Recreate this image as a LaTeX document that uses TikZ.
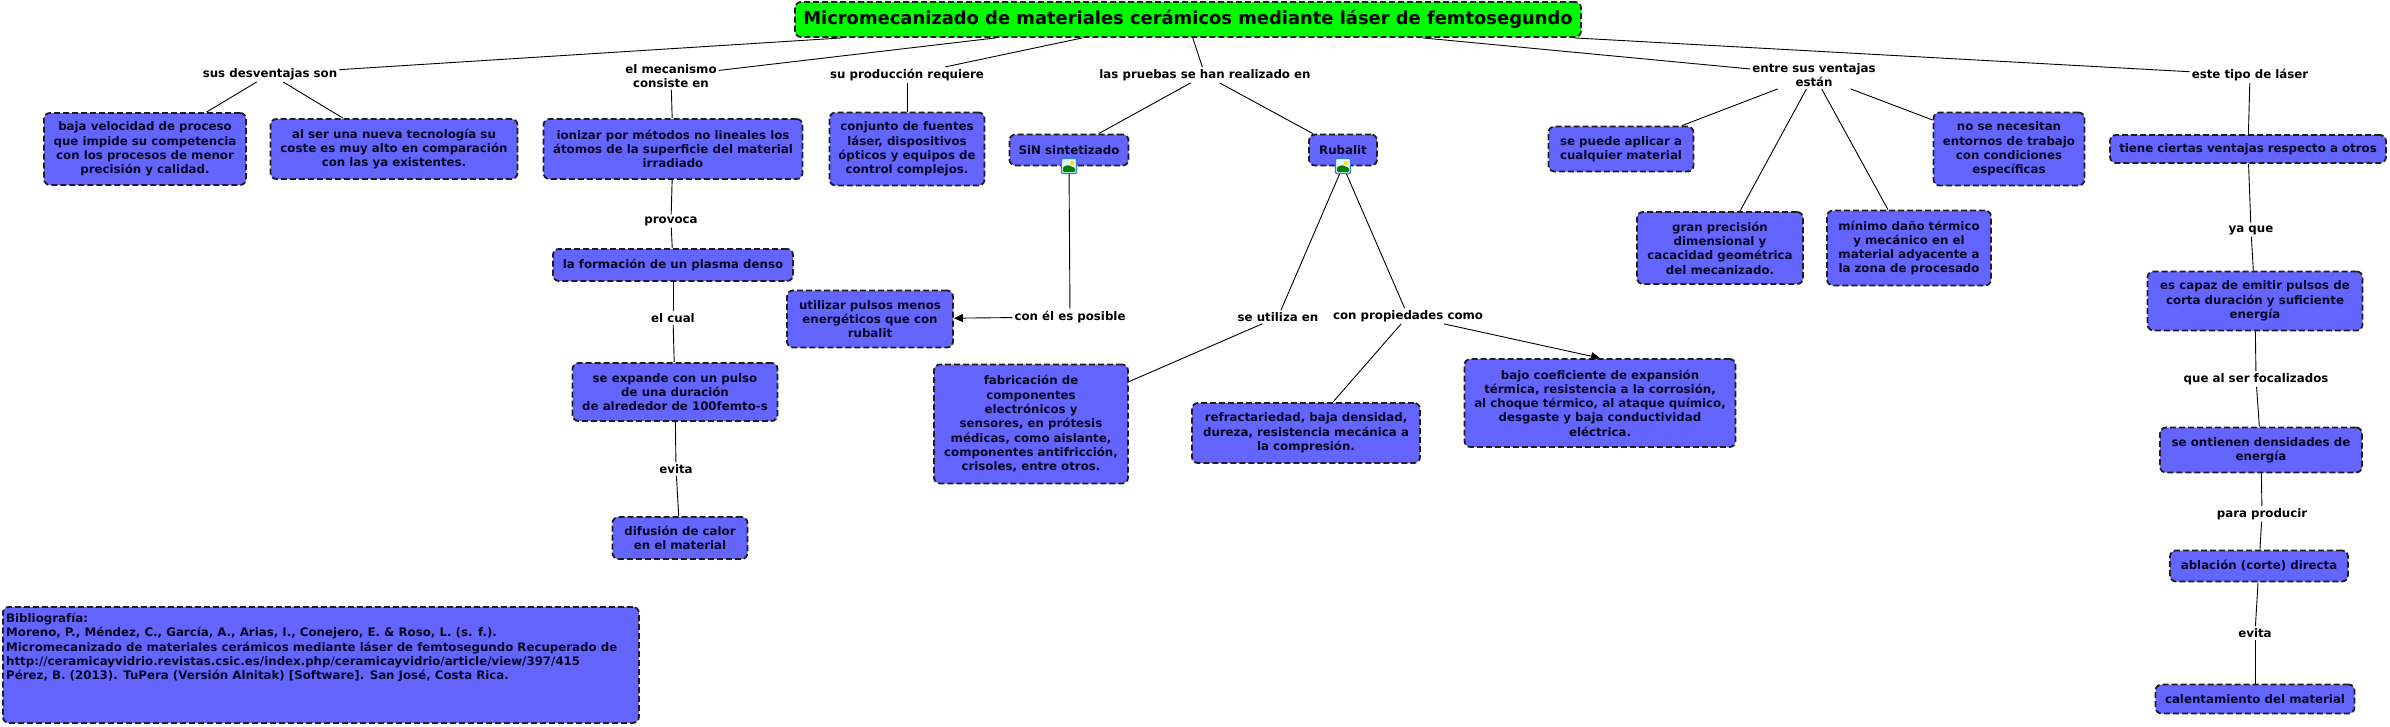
\documentclass[tikz,border=0pt]{standalone}
\usepackage{fontspec}
\setmainfont{DejaVu Sans}
\usetikzlibrary{arrows.meta,calc}
\definecolor{cbox}{RGB}{100,100,255}
\definecolor{ctitle}{RGB}{0,250,0}
\definecolor{cborder}{RGB}{30,30,30}
\definecolor{ctext}{RGB}{8,8,35}
\definecolor{iconblue}{RGB}{60,120,210}
\begin{document}
\begin{tikzpicture}[x=1pt,y=1pt,
  base/.style={font=\fontsize{11.8}{14.3}\selectfont\bfseries, align=center},
  concept/.style={base, draw=cborder, fill=cbox, text=ctext, line width=1.8pt, dash pattern=on 6pt off 3pt, rounded corners=6pt, inner xsep=6pt, inner ysep=4pt},
  link/.style={base, text=black, inner sep=2pt},
  titlebox/.style={concept, fill=ctitle, text=black, font=\fontsize{17.9}{20}\selectfont\bfseries},
  conn/.style={draw=black, line width=0.9pt},
  arr/.style={conn, -{Triangle[length=9pt,width=8pt]}},
  imgicon/.style={draw=iconblue, line width=1.2pt, fill=cyan!12, minimum size=15pt, inner sep=0pt, rounded corners=1pt,
    path picture={
      \fill[green!50!black] ($(path picture bounding box.south west)+(1.5pt,1.5pt)$) -- ($(path picture bounding box.south east)+(-1.5pt,1.5pt)$)
        -- ($(path picture bounding box.east)+(-1.5pt,-2pt)$) -- ($(path picture bounding box.center)+(-1pt,1pt)$)
        -- ($(path picture bounding box.west)+(1.5pt,-1pt)$) -- cycle;
      \fill[yellow!85!orange] ($(path picture bounding box.north east)+(-4.5pt,-4.5pt)$) circle (2.2pt);
    }}
]
\useasboundingbox (0,0) rectangle (2390,-726);
\fill[white] (0,0) rectangle (2390,-726);

% title
\node[titlebox, minimum width=786pt, minimum height=35pt] (title) at (1188,-19.5) {Micromecanizado de materiales cerámicos mediante láser de femtosegundo};

% linking phrases
\node[link] (L1) at (270,-74) {sus desventajas son};
\node[link] (L2) at (671,-76) {el mecanismo\\consiste en};
\node[link] (L3) at (907,-75) {su producción requiere};
\node[link] (L4) at (1205,-75) {las pruebas se han realizado en};
\node[link] (L5) at (1814,-75) {entre sus ventajas\\están};
\node[link] (L6) at (2250,-75) {este tipo de láser};
\node[link] (L7) at (671,-221) {provoca};
\node[link] (L8) at (673,-318) {el cual};
\node[link] (L9) at (676,-469) {evita};
\node[link] (L10) at (1070,-317) {con él es posible};
\node[link] (L11) at (1278,-317) {se utiliza en};
\node[link] (L12) at (1408,-316) {con propiedades como};
\node[link] (L13) at (2251,-230) {ya que};
\node[link] (L14) at (2256,-379) {que al ser focalizados};
\node[link] (L15) at (2262,-514) {para producir};
\node[link] (L16) at (2255,-633) {evita};

% concepts
\node[concept, minimum width=202pt, minimum height=72pt] (C1) at (145,-149) {baja velocidad de proceso\\que impide su competencia\\con los procesos de menor\\precisión y calidad.};
\node[concept, minimum width=247pt, minimum height=60pt] (C2) at (394,-149) {al ser una nueva tecnología su\\coste es muy alto en comparación\\con las ya existentes.};
\node[concept, minimum width=259pt, minimum height=60pt] (C3) at (673,-149) {ionizar por métodos no lineales los\\átomos de la superficie del material\\irradiado};
\node[concept, minimum width=155pt, minimum height=73pt] (C4) at (907,-149) {conjunto de fuentes\\láser, dispositivos\\ópticos y equipos de\\control complejos.};
\node[concept, minimum width=119pt, minimum height=31pt] (C5) at (1069,-150) {SiN sintetizado};
\node[concept, minimum width=68pt, minimum height=31pt] (C6) at (1343,-150) {Rubalit};
\node[concept, minimum width=145pt, minimum height=45pt] (C7) at (1621,-149) {se puede aplicar a\\cualquier material};
\node[concept, minimum width=151pt, minimum height=73pt] (C8) at (2009,-149) {no se necesitan\\entornos de trabajo\\con condiciones\\específicas};
\node[concept, minimum width=276pt, minimum height=28pt] (C9) at (2248,-149) {tiene ciertas ventajas respecto a otros};
\node[concept, minimum width=166pt, minimum height=72pt] (C10) at (1720,-248) {gran precisión\\dimensional y\\cacacidad geométrica\\del mecanizado.};
\node[concept, minimum width=164pt, minimum height=75pt] (C11) at (1909,-248) {mínimo daño térmico\\y mecánico en el\\material adyacente a\\la zona de procesado};
\node[concept, minimum width=240pt, minimum height=32pt] (C12) at (673,-265) {la formación de un plasma denso};
\node[concept, minimum width=205pt, minimum height=58pt] (C13) at (675,-392) {se expande con un pulso\\de una duración\\de alrededor de 100femto-s};
\node[concept, minimum width=135pt, minimum height=42pt] (C14) at (680,-538) {difusión de calor\\en el material};
\node[concept, minimum width=166pt, minimum height=57pt] (C15) at (870,-319) {utilizar pulsos menos\\energéticos que con\\rubalit};
\node[concept, minimum width=194pt, minimum height=119pt] (C16) at (1031,-424) {fabricación de\\componentes\\electrónicos y\\sensores, en prótesis\\médicas, como aislante,\\componentes antifricción,\\crisoles, entre otros.};
\node[concept, minimum width=228pt, minimum height=60pt] (C17) at (1306,-433) {refractariedad, baja densidad,\\dureza, resistencia mecánica a\\la compresión.};
\node[concept, minimum width=271pt, minimum height=88pt] (C18) at (1600,-403) {bajo coeficiente de expansión\\térmica, resistencia a la corrosión,\\al choque térmico, al ataque químico,\\desgaste y baja conductividad\\eléctrica.};
\node[concept, minimum width=215pt, minimum height=59pt] (C19) at (2255,-301) {es capaz de emitir pulsos de\\corta duración y suficiente\\energía};
\node[concept, minimum width=202pt, minimum height=45pt] (C20) at (2261,-450) {se ontienen densidades de\\energía};
\node[concept, minimum width=178pt, minimum height=31pt] (C21) at (2259,-566) {ablación (corte) directa};
\node[concept, minimum width=199pt, minimum height=29pt] (C22) at (2255,-699) {calentamiento del material};

% image icons
\node[imgicon] (sinicon) at (1069,-166) {};
\node[imgicon] (rubicon) at (1343,-166) {};

% bibliography
\node[concept, minimum width=636pt, minimum height=116pt, anchor=north west] (bib) at (2,-606) {};
\node[base, align=left, text=ctext, anchor=north west, inner sep=0pt] (bibtext) at (6,-613) {Bibliografía:\\Moreno, P., Méndez, C., García, A., Arias, I., Conejero, E. \& Roso, L. (s. f.).\\Micromecanizado de materiales cerámicos mediante láser de femtosegundo Recuperado de\\http://ceramicayvidrio.revistas.csic.es/index.php/ceramicayvidrio/article/view/397/415\\Pérez, B. (2013). TuPera (Versión Alnitak) [Software]. San José, Costa Rica.};

% connectors from title
\draw[conn] ($(title.south west)!0.061!(title.south east)$) -- (L1);
\draw[conn] ($(title.south west)!0.256!(title.south east)$) -- (L2);
\draw[conn] ($(title.south west)!0.366!(title.south east)$) -- (L3);
\draw[conn] ($(title.south west)!0.506!(title.south east)$) -- (L4);
\draw[conn] ($(title.south west)!0.798!(title.south east)$) -- (L5);
\draw[conn] ($(title.south west)!0.99!(title.south east)$) -- (L6);

\draw[conn] (L1) -- (C1);
\draw[conn] (L1) -- (C2);
\draw[conn] (L2) -- (C3);
\draw[conn] (L3) -- (C4);
\draw[conn] (L4) -- (C5);
\draw[conn] (L4) -- (C6);
\draw[conn] (L5) -- (C7);
\draw[conn] (L5) -- (C10);
\draw[conn] (L5) -- (C11);
\draw[conn] (L5) -- (C8);
\draw[conn] (L6) -- (C9);

\draw[conn] (C3) -- (L7);
\draw[conn] (L7) -- (C12);
\draw[conn] (C12) -- (L8);
\draw[conn] (L8) -- (C13);
\draw[conn] (C13) -- (L9);
\draw[conn] (L9) -- (C14);

\draw[conn] (sinicon) -- (L10);
\draw[arr] (L10) -- (C15);
\draw[conn] (rubicon) -- (L11);
\draw[conn] (L11) -- (C16);
\draw[conn] (rubicon) -- (L12);
\draw[conn] (L12) -- (C17);
\draw[arr] (L12) -- (C18.north);

\draw[conn] (C9) -- (L13);
\draw[conn] (L13) -- (C19);
\draw[conn] (C19) -- (L14);
\draw[conn] (L14) -- (C20);
\draw[conn] (C20) -- (L15);
\draw[conn] (L15) -- (C21);
\draw[conn] (C21) -- (L16);
\draw[conn] (L16) -- (C22);
\end{tikzpicture}
\end{document}
